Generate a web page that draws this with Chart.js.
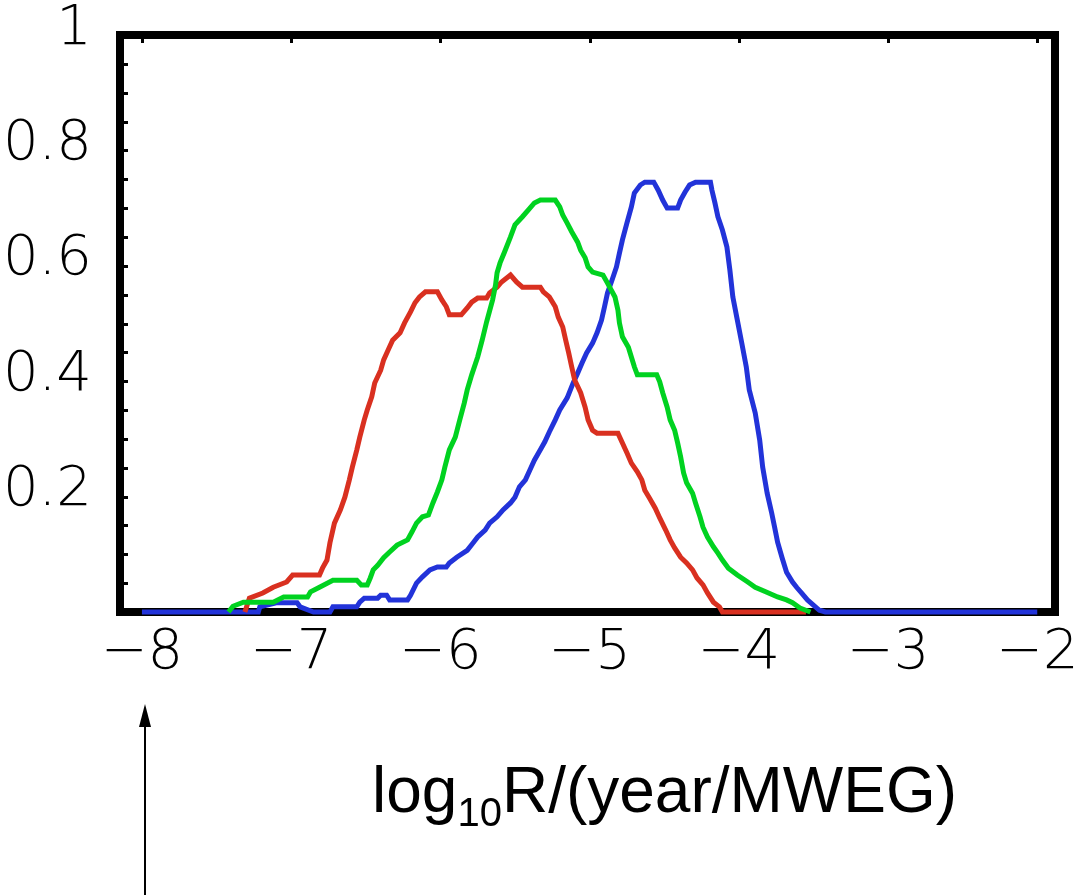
<!DOCTYPE html>
<html>
<head>
<meta charset="utf-8">
<script src="https://cdn.jsdelivr.net/npm/chart.js"></script>
<style>
  body { margin: 0; background: #fff; }
  #wrap { position: relative; width: 1075px; height: 895px; }
  #xtitle {
    position: absolute; left: 372px; top: 758px;
    font-family: 'Liberation Sans', Arial, sans-serif;
    font-size: 64px; line-height: 1; color: #000; white-space: nowrap;
  }
  #xtitle span { font-size: 40px; position: relative; top: 14px; }
  #arrow { position: absolute; left: 135px; top: 700px; }
</style>
</head>
<body>
<div id="wrap">
  <canvas id="myChart" width="1075" height="895"></canvas>
  <div id="xtitle">log<span>10</span>R/(year/MWEG)</div>
  <svg id="arrow" width="20" height="195">
    <line x1="10" y1="20" x2="10" y2="195" stroke="#000" stroke-width="2"/>
    <polygon points="10,4 4,27 16,27" fill="#000"/>
  </svg>
</div>
<script>
// tick values
var xTicks = [-8, -7, -6, -5, -4, -3, -2];
var yLabels = [0.2, 0.4, 0.6, 0.8, 1];

// red curve
var redX = [-7.31, -7.28, -7.19, -7.12, -7.03, -6.99, -6.81, -6.79, -6.76, -6.74, -6.71, -6.67, -6.64, -6.61, -6.59, -6.56,
  -6.54, -6.51, -6.49, -6.46, -6.44, -6.40, -6.38, -6.35, -6.32, -6.27, -6.24, -6.20, -6.17, -6.14, -6.10, -6.02,
  -5.99, -5.96, -5.94, -5.86, -5.82, -5.79, -5.75, -5.69, -5.67, -5.62, -5.59, -5.53, -5.49, -5.45, -5.33, -5.31,
  -5.27, -5.23, -5.21, -5.18, -5.16, -5.14, -5.12, -5.10, -5.06, -5.03, -5.01, -4.98, -4.95, -4.81, -4.78, -4.75,
  -4.72, -4.68, -4.65, -4.63, -4.60, -4.56, -4.53, -4.49, -4.46, -4.43, -4.39, -4.35, -4.31, -4.28, -4.24, -4.21,
  -4.17, -4.13, -4.11, -3.55];
var redY = [0, 0.024, 0.033, 0.043, 0.052, 0.064, 0.064, 0.076, 0.090, 0.120, 0.154, 0.177, 0.199, 0.229, 0.251, 0.281,
  0.303, 0.333, 0.350, 0.373, 0.397, 0.419, 0.437, 0.454, 0.471, 0.484, 0.501, 0.520, 0.536, 0.546, 0.555, 0.555,
  0.541, 0.529, 0.515, 0.515, 0.527, 0.537, 0.544, 0.544, 0.553, 0.563, 0.572, 0.584, 0.572, 0.563, 0.563, 0.555,
  0.546, 0.529, 0.511, 0.494, 0.471, 0.449, 0.425, 0.402, 0.380, 0.355, 0.333, 0.315, 0.310, 0.310, 0.293, 0.276,
  0.258, 0.243, 0.229, 0.211, 0.198, 0.180, 0.163, 0.142, 0.125, 0.111, 0.095, 0.085, 0.073, 0.059, 0.047, 0.033,
  0.017, 0.009, 0, 0];

// green curve
var greenX = [-7.42, -7.39, -7.32, -7.12, -7.05, -6.89, -6.87, -6.81, -6.72, -6.56, -6.53, -6.49, -6.47, -6.45, -6.42, -6.38,
  -6.34, -6.29, -6.22, -6.19, -6.16, -6.12, -6.08, -6.05, -6.02, -5.99, -5.97, -5.94, -5.90, -5.87, -5.84, -5.82,
  -5.79, -5.75, -5.72, -5.69, -5.65, -5.63, -5.62, -5.60, -5.57, -5.53, -5.50, -5.45, -5.41, -5.37, -5.33, -5.23,
  -5.20, -5.18, -5.15, -5.12, -5.08, -5.06, -5.03, -5.01, -4.98, -4.91, -4.88, -4.83, -4.81, -4.80, -4.78, -4.74,
  -4.72, -4.70, -4.68, -4.55, -4.53, -4.51, -4.48, -4.46, -4.43, -4.41, -4.39, -4.37, -4.35, -4.31, -4.29, -4.26,
  -4.24, -4.21, -4.17, -4.14, -4.11, -4.07, -4.01, -3.94, -3.89, -3.82, -3.74, -3.68, -3.64, -3.59, -3.52];
var greenY = [0, 0.010, 0.017, 0.017, 0.026, 0.026, 0.035, 0.043, 0.055, 0.055, 0.047, 0.047, 0.059, 0.073, 0.081, 0.094,
  0.104, 0.116, 0.125, 0.139, 0.154, 0.165, 0.168, 0.189, 0.208, 0.229, 0.251, 0.281, 0.303, 0.333, 0.362, 0.385,
  0.411, 0.442, 0.471, 0.503, 0.541, 0.567, 0.588, 0.605, 0.624, 0.650, 0.671, 0.685, 0.697, 0.709, 0.714, 0.714,
  0.702, 0.688, 0.674, 0.659, 0.641, 0.627, 0.614, 0.598, 0.589, 0.584, 0.570, 0.546, 0.523, 0.501, 0.477, 0.459,
  0.442, 0.425, 0.411, 0.411, 0.399, 0.380, 0.355, 0.333, 0.315, 0.293, 0.269, 0.241, 0.224, 0.206, 0.189, 0.165,
  0.147, 0.130, 0.113, 0.102, 0.090, 0.076, 0.064, 0.052, 0.043, 0.035, 0.026, 0.021, 0.016, 0.007, 0];

// blue curve
var blueX = [-8.0, -7.22, -7.21, -7.10, -6.96, -6.94, -6.85, -6.74, -6.72, -6.56, -6.54, -6.51, -6.42, -6.40, -6.36, -6.34,
  -6.22, -6.20, -6.16, -6.12, -6.07, -6.02, -5.96, -5.94, -5.89, -5.82, -5.78, -5.75, -5.70, -5.67, -5.62, -5.58,
  -5.53, -5.50, -5.47, -5.43, -5.40, -5.37, -5.33, -5.30, -5.27, -5.23, -5.20, -5.15, -5.11, -5.08, -5.05, -5.02,
  -4.98, -4.95, -4.92, -4.90, -4.88, -4.85, -4.82, -4.80, -4.78, -4.75, -4.72, -4.70, -4.66, -4.63, -4.57, -4.54,
  -4.51, -4.48, -4.41, -4.39, -4.36, -4.33, -4.29, -4.19, -4.18, -4.16, -4.14, -4.11, -4.08, -4.06, -4.04, -4.01,
  -3.98, -3.95, -3.93, -3.89, -3.86, -3.84, -3.81, -3.78, -3.76, -3.74, -3.71, -3.68, -3.64, -3.61, -3.58, -3.54,
  -3.50, -3.46, -3.42, -2.0];
var blueY = [0, 0, 0.009, 0.016, 0.016, 0.009, 0, 0, 0.009, 0.009, 0.017, 0.024, 0.024, 0.029, 0.029, 0.021,
  0.021, 0.029, 0.050, 0.061, 0.073, 0.078, 0.078, 0.085, 0.095, 0.107, 0.120, 0.130, 0.142, 0.154, 0.165, 0.177,
  0.189, 0.199, 0.217, 0.229, 0.246, 0.263, 0.281, 0.295, 0.312, 0.333, 0.350, 0.371, 0.397, 0.414, 0.432, 0.449,
  0.466, 0.484, 0.506, 0.529, 0.553, 0.575, 0.598, 0.622, 0.645, 0.674, 0.702, 0.726, 0.740, 0.745, 0.745, 0.731,
  0.714, 0.700, 0.700, 0.714, 0.728, 0.740, 0.745, 0.745, 0.731, 0.709, 0.685, 0.662, 0.633, 0.593, 0.546, 0.506,
  0.466, 0.425, 0.385, 0.345, 0.298, 0.251, 0.206, 0.172, 0.147, 0.121, 0.094, 0.069, 0.052, 0.042, 0.033, 0.021,
  0.012, 0.003, 0, 0];

function pts(xs, ys) {
  return xs.map(function (x, i) { return { x: x, y: ys[i] }; });
}

function fmtX(v) {
  return v < 0 ? '\u2212' + Math.abs(v) : String(v);
}

// black frame plus the small inward ticks, drawn under the curves
var framePlugin = {
  id: 'frame',
  beforeDatasetsDraw: function (chart) {
    var ctx = chart.ctx, a = chart.chartArea;
    var xs = chart.scales.x, ys = chart.scales.y;
    ctx.save();
    ctx.fillStyle = '#000';
    for (var v = 0.05; v < 0.999; v += 0.05) {
      var py = ys.getPixelForValue(v);
      ctx.fillRect(a.left + 3, Math.round(py) - 1, 5, 3);
    }
    xTicks.forEach(function (t) {
      var px = xs.getPixelForValue(t);
      ctx.fillRect(Math.round(px) - 1, a.top + 3, 3, 5);
    });
    ctx.strokeStyle = '#000';
    ctx.lineWidth = 8;
    ctx.strokeRect(a.left, a.top, a.right - a.left, a.bottom - a.top);
    ctx.restore();
  }
};

var tickFont = { family: "'DejaVu Sans', sans-serif", size: 56, weight: 200 };

var ctx = document.getElementById('myChart').getContext('2d');
var myChart = new Chart(ctx, {
  type: 'line',
  data: {
    datasets: [
      { data: pts(greenX, greenY), borderColor: 'rgb(0,210,32)' },
      { data: pts(redX, redY), borderColor: 'rgb(217,48,32)' },
      { data: pts(blueX, blueY), borderColor: 'rgb(34,51,217)' }
    ]
  },
  options: {
    responsive: false,
    animation: false,
    layout: { padding: { top: 35, right: 20, left: 0, bottom: 0 } },
    datasets: {
      line: { borderWidth: 5, pointRadius: 0, tension: 0, fill: false, clip: 8, borderJoinStyle: 'miter' }
    },
    plugins: { legend: { display: false }, tooltip: { enabled: false } },
    scales: {
      x: {
        type: 'linear',
        min: -8.147,
        max: -1.881,
        grid: { display: false, drawTicks: false },
        border: { display: false },
        afterBuildTicks: function (s) { s.ticks = xTicks.map(function (v) { return { value: v }; }); },
        afterFit: function (s) { s.height = 283; s.paddingLeft = 0; s.paddingRight = 0; },
        ticks: {
          color: '#000', font: tickFont, padding: 8, maxRotation: 0, autoSkip: false,
          callback: function (v) { return fmtX(v); }
        }
      },
      y: {
        type: 'linear',
        min: 0,
        max: 1,
        grid: { display: false, drawTicks: false },
        border: { display: false },
        afterBuildTicks: function (s) { s.ticks = yLabels.map(function (v) { return { value: v }; }); },
        afterFit: function (s) { s.width = 120; s.paddingTop = 0; s.paddingBottom = 0; },
        ticks: {
          color: '#000', font: tickFont, padding: 28, labelOffset: -6, autoSkip: false,
          callback: function (v) { return String(Math.round(v * 10) / 10); }
        }
      }
    }
  },
  plugins: [framePlugin]
});
</script>
</body>
</html>
